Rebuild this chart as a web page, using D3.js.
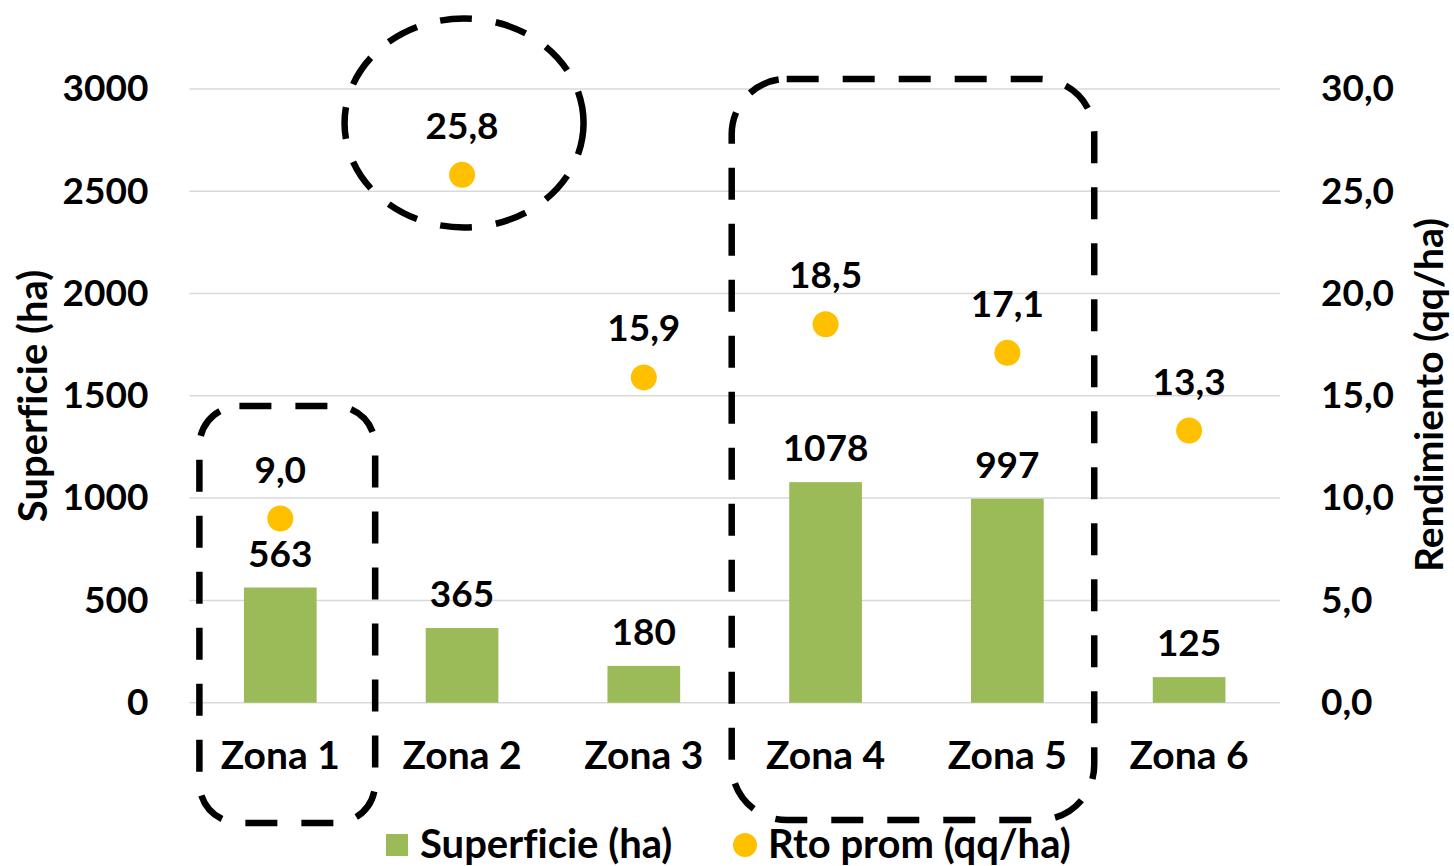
<!DOCTYPE html>
<html>
<head>
<meta charset="utf-8">
<script src="https://cdn.jsdelivr.net/npm/d3@7"></script>
<style>
  html, body { margin: 0; padding: 0; background: #fff; }
  svg { display: block; }
  text { font-family: Lato, "Open Sans", sans-serif; font-weight: 700; fill: #000; font-variant-ligatures: none; }
</style>
</head>
<body>
<svg id="chart" width="1454" height="866"></svg>
<script>
const categories = ["Zona 1", "Zona 2", "Zona 3", "Zona 4", "Zona 5", "Zona 6"];
const superficie = [563, 365, 180, 1078, 997, 125];
const rendimiento = [9.0, 25.8, 15.9, 18.5, 17.1, 13.3];
const leftTicks = [0, 500, 1000, 1500, 2000, 2500, 3000];
const rightTicks = [0, 5, 10, 15, 20, 25, 30];
const seriesNames = ["Superficie (ha)", "Rto prom (qq/ha)"];
const axisTitles = ["Superficie (ha)", "Rendimiento (qq/ha)"];

const W = 1454, H = 866;
const plot = { left: 189.4, right: 1280, top: 88.9, bottom: 702.7 };
const FS = 37, FT = 40, FC = 39;
const green = "#9BBB59", gold = "#FFC000";
const fmt1 = v => v.toFixed(1).replace(".", ",");

const svg = d3.select("#chart");

const x = d3.scaleBand().domain(categories).range([plot.left, plot.right]).padding(0);
const yL = d3.scaleLinear().domain([0, 3000]).range([plot.bottom, plot.top]);
const yR = d3.scaleLinear().domain([0, 30]).range([plot.bottom, plot.top]);
const barW = x.bandwidth() * 0.4;

function styleText(sel, size) {
  sel.attr("font-size", size).attr("font-family", null)
    .style("font-family", "Lato, sans-serif").style("font-weight", 700);
}

// gridlines
svg.append("g").selectAll("line").data(leftTicks).join("line")
  .attr("x1", plot.left).attr("x2", plot.right)
  .attr("y1", d => yL(d)).attr("y2", d => yL(d))
  .attr("stroke", "#D9D9D9").attr("stroke-width", 1.5);

// left axis
const gL = svg.append("g").attr("transform", `translate(${plot.left},0)`)
  .call(d3.axisLeft(yL).tickValues(leftTicks).tickSize(0).tickPadding(41).tickFormat(d => String(d)));
gL.select(".domain").remove();
styleText(gL.selectAll("text"), FS);

// right axis
const gR = svg.append("g").attr("transform", `translate(${plot.right},0)`)
  .call(d3.axisRight(yR).tickValues(rightTicks).tickSize(0).tickPadding(41).tickFormat(fmt1));
gR.select(".domain").remove();
styleText(gR.selectAll("text"), FS);

// category axis
const gX = svg.append("g").attr("transform", `translate(0,${plot.bottom})`)
  .call(d3.axisBottom(x).tickSize(0).tickPadding(39));
gX.select(".domain").remove();
styleText(gX.selectAll("text"), FC);

// bars
svg.append("g").selectAll("rect").data(superficie).join("rect")
  .attr("x", (d, i) => x(categories[i]) + (x.bandwidth() - barW) / 2)
  .attr("width", barW)
  .attr("y", d => yL(d))
  .attr("height", d => yL(0) - yL(d))
  .attr("fill", green);

// bar labels
svg.append("g").selectAll("text").data(superficie).join("text")
  .attr("x", (d, i) => x(categories[i]) + x.bandwidth() / 2)
  .attr("y", d => yL(d) - 21)
  .attr("text-anchor", "middle").attr("font-size", FS)
  .text(d => d);

// points
svg.append("g").selectAll("circle").data(rendimiento).join("circle")
  .attr("cx", (d, i) => x(categories[i]) + x.bandwidth() / 2)
  .attr("cy", d => yR(d))
  .attr("r", 13)
  .attr("fill", gold);

// point labels
svg.append("g").selectAll("text").data(rendimiento).join("text")
  .attr("x", (d, i) => x(categories[i]) + x.bandwidth() / 2)
  .attr("y", d => yR(d) - 36)
  .attr("text-anchor", "middle").attr("font-size", FS)
  .text(d => fmt1(d));

// axis titles
svg.append("text")
  .attr("transform", `translate(47,396) rotate(-90)`)
  .attr("text-anchor", "middle").attr("font-size", FT)
  .text(axisTitles[0]);
svg.append("text")
  .attr("transform", `translate(1443,395) rotate(-90)`)
  .attr("text-anchor", "middle").attr("font-size", 39)
  .text(axisTitles[1]);

// legend
const lg = svg.append("g");
lg.append("rect").attr("x", 386).attr("y", 834).attr("width", 22).attr("height", 22).attr("fill", green);
lg.append("text").attr("x", 420).attr("y", 858).attr("font-size", FT).text(seriesNames[0]);
lg.append("circle").attr("cx", 745).attr("cy", 845).attr("r", 12).attr("fill", gold);
lg.append("text").attr("x", 768).attr("y", 858).attr("font-size", FT).text(seriesNames[1]);

// dashed annotations
const ann = svg.append("g").attr("fill", "none").attr("stroke", "#000")
  .attr("stroke-width", 6.5).attr("stroke-dasharray", "32,24");
const bw = x.bandwidth();
const b1 = x("Zona 1"), b4 = x("Zona 4"), b5 = x("Zona 5"), b2 = x("Zona 2");
ann.append("rect")
  .attr("x", b1 + 10).attr("y", yL(1450)).attr("width", bw - 6).attr("height", 823 - yL(1450))
  .attr("rx", 40).attr("ry", 40);
ann.append("rect")
  .attr("x", b4 - 3).attr("y", 79)
  .attr("width", (b5 + bw - 4) - (b4 - 3)).attr("height", 820 - 79)
  .attr("rx", 55).attr("ry", 55);
ann.append("ellipse")
  .attr("cx", b2 + bw / 2 + 2).attr("cy", 123)
  .attr("rx", 119.5).attr("ry", 104.5);
</script>
</body>
</html>
